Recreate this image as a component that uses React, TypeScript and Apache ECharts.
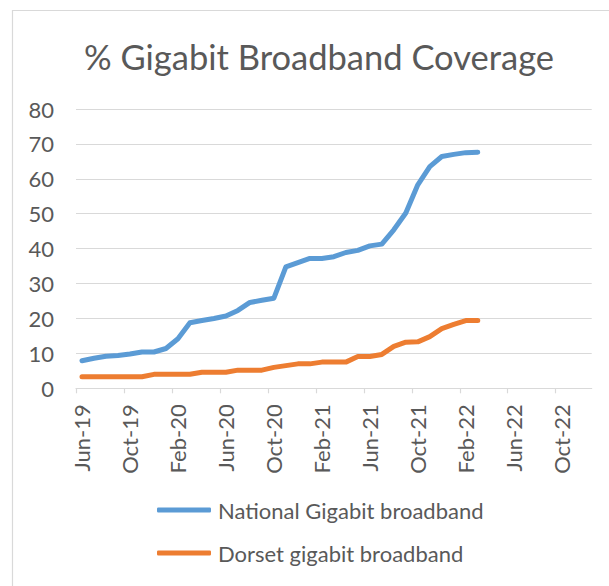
import { useEffect, useRef } from "react";
import * as echarts from "echarts";

const months = [
  "Jun-19", "Jul-19", "Aug-19", "Sep-19", "Oct-19", "Nov-19", "Dec-19",
  "Jan-20", "Feb-20", "Mar-20", "Apr-20", "May-20", "Jun-20", "Jul-20", "Aug-20", "Sep-20", "Oct-20", "Nov-20", "Dec-20",
  "Jan-21", "Feb-21", "Mar-21", "Apr-21", "May-21", "Jun-21", "Jul-21", "Aug-21", "Sep-21", "Oct-21", "Nov-21", "Dec-21",
  "Jan-22", "Feb-22", "Mar-22", "Apr-22", "May-22", "Jun-22", "Jul-22", "Aug-22", "Sep-22", "Oct-22", "Nov-22", "Dec-22",
];

// Monthly values from Jun-19 to Mar-22
const national = [
  7.9, 8.6, 9.2, 9.4, 9.8, 10.4, 10.4, 11.4, 14.2, 18.8,
  19.4, 20.0, 20.7, 22.3, 24.6, 25.2, 25.8, 34.8, 36.0, 37.2,
  37.2, 37.7, 38.9, 39.5, 40.8, 41.3, 45.4, 50.2, 58.3, 63.5,
  66.4, 67.0, 67.5, 67.6,
];
const dorset = [
  3.3, 3.3, 3.3, 3.3, 3.3, 3.3, 4.0, 4.0, 4.0, 4.0,
  4.6, 4.6, 4.6, 5.2, 5.2, 5.2, 6.0, 6.5, 7.0, 7.0,
  7.5, 7.5, 7.5, 9.1, 9.1, 9.7, 12.0, 13.2, 13.3, 14.8,
  17.1, 18.3, 19.4, 19.4,
];

const labelMonths = ["Jun-19", "Oct-19", "Feb-20", "Jun-20", "Oct-20", "Feb-21", "Jun-21", "Oct-21", "Feb-22", "Jun-22", "Oct-22"];

const seriesNames = ["National Gigabit broadband", "Dorset gigabit broadband"];
const titleText = "% Gigabit Broadband Coverage";

const FONT = "Lato, 'Open Sans', sans-serif";
const TEXT = "#595959";
const GRID = "#d9d9d9";

export default function App() {
  const ref = useRef<HTMLDivElement>(null);

  useEffect(() => {
    if (!ref.current) return;
    const chart = echarts.init(ref.current, undefined, { renderer: "svg" });
    const labelValues = labelMonths.map((m) => months.indexOf(m));
    const tickValues = labelValues.map((v) => v - 0.5);

    chart.setOption({
      animation: false,
      textStyle: { fontFamily: FONT },
      graphic: [
        {
          type: "rect",
          shape: { x: 12.5, y: 10.5, width: 800, height: 800 },
          style: { fill: "none", stroke: GRID, lineWidth: 1.2 },
          silent: true,
        },
        {
          type: "text",
          x: 319,
          y: 56,
          style: {
            text: titleText,
            fontSize: 34.5,
            fontFamily: FONT,
            fill: TEXT,
            textAlign: "center",
            textVerticalAlign: "middle",
          },
        },
      ],
      grid: { left: 76, right: 17.3, top: 109, bottom: 197.7 },
      xAxis: {
        type: "value",
        min: -0.5,
        max: months.length - 0.5,
        axisLine: { show: true, lineStyle: { color: GRID, width: 1.2 } },
        axisTick: { show: true, length: 5, lineStyle: { color: GRID, width: 1.2 }, customValues: tickValues },
        axisLabel: {
          customValues: labelValues,
          rotate: 90,
          margin: 16,
          fontSize: 22,
          color: TEXT,
          fontFamily: FONT,
          formatter: (v: number) => months[Math.round(v)] ?? "",
        },
        splitLine: { show: false },
      },
      yAxis: {
        type: "value",
        min: 0,
        max: 80,
        interval: 10,
        axisLine: { show: false },
        axisTick: { show: false },
        axisLabel: { fontSize: 22, color: TEXT, margin: 22, fontFamily: FONT },
        splitLine: { lineStyle: { color: GRID, width: 1.2 } },
      },
      legend: {
        orient: "vertical",
        left: 157,
        top: 499,
        padding: 0,
        icon: "roundRect",
        itemWidth: 54,
        itemHeight: 5,
        itemGap: 21,
        textStyle: { fontSize: 22, color: TEXT, fontFamily: FONT, padding: [0, 0, 0, 2] },
        data: seriesNames,
      },
      series: [
        {
          name: seriesNames[0],
          type: "line",
          data: national.map((v, i) => [i, v]),
          symbol: "none",
          lineStyle: { color: "#5B9BD5", width: 5, cap: "round", join: "round" },
          itemStyle: { color: "#5B9BD5" },
        },
        {
          name: seriesNames[1],
          type: "line",
          data: dorset.map((v, i) => [i, v]),
          symbol: "none",
          lineStyle: { color: "#ED7D31", width: 5, cap: "round", join: "round" },
          itemStyle: { color: "#ED7D31" },
        },
      ],
    });
    return () => chart.dispose();
  }, []);

  return (
    <div
      ref={ref}
      style={{ position: "fixed", left: 0, top: 0, width: 609, height: 586, background: "#fff" }}
    />
  );
}
